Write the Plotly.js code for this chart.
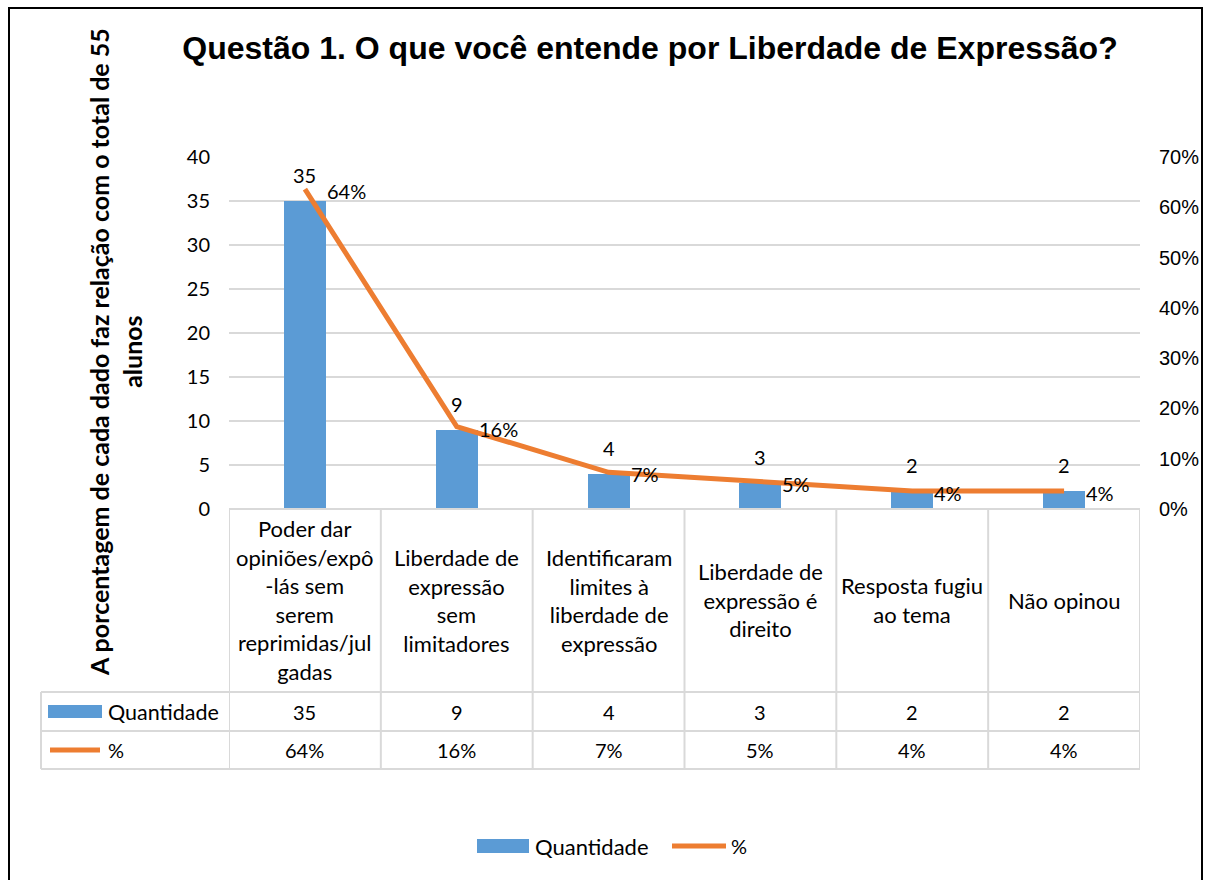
<!DOCTYPE html>
<html>
<head>
<meta charset="utf-8">
<script src="https://cdn.plot.ly/plotly-3.0.1.min.js"></script>
<style>html,body{margin:0;padding:0;background:#fff;}#chart{width:1208px;height:880px;}</style>
</head>
<body>
<div id="chart"></div>
<script>
// ---- data ----
const categories = [
  "Poder dar<br>opiniões/expô<br>-lás sem<br>serem<br>reprimidas/jul<br>gadas",
  "Liberdade de<br>expressão<br>sem<br>limitadores",
  "Identificaram<br>limites à<br>liberdade de<br>expressão",
  "Liberdade de<br>expressão é<br>direito",
  "Resposta fugiu<br>ao tema",
  "Não opinou"
];
const quantidade = [35, 9, 4, 3, 2, 2];
const percentual = [0.636, 0.164, 0.073, 0.0545, 0.036, 0.036];
const seriesNames = ["Quantidade", "%"];
const titleText = "Questão 1. O que você entende por Liberdade de Expressão?";
const yTitleText = "A porcentagem de cada dado faz relação com o total de 55<br>alunos";

// ---- geometry helpers (pixels -> paper) ----
const L = 229, R = 1140, T = 157, B = 509, W = 1208, H = 880;
const pw = R - L, ph = B - T;
const px = x => (x - L) / pw;
const py = y => (B - y) / ph;

const calib = "Lato, 'Open Sans', sans-serif";
const arial = "'Liberation Sans', Arial, sans-serif";
const blue = "#5b9bd5", orange = "#ed7d31", grid = "#d9d9d9";
const txt = 22, num = 20;

const xIdx = categories.map((c, i) => i);

const traces = [
  {
    type: "bar", x: xIdx, y: quantidade, name: seriesNames[0],
    width: 0.277, marker: {color: blue}, hoverinfo: "skip"
  },
  {
    type: "scatter", mode: "lines", x: xIdx, y: percentual, name: seriesNames[1],
    yaxis: "y2", line: {color: orange, width: 5}, hoverinfo: "skip"
  }
];

const annotations = [];
const shapes = [];

// bar labels
quantidade.forEach((v, i) => {
  annotations.push({x: i, y: v, xref: "x", yref: "y", text: String(v), showarrow: false,
    xanchor: "center", yanchor: "bottom", yshift: 12, font: {family: calib, size: num, color: "#000"}});
});
// line labels
percentual.forEach((v, i) => {
  annotations.push({x: i, y: v, xref: "x", yref: "y2", text: Math.round(v * 100) + "%", showarrow: false,
    xanchor: "left", yanchor: "middle", xshift: 20, yshift: -2, font: {family: calib, size: num, color: "#000"}});
});
// table header (categories) and values
categories.forEach((c, i) => {
  annotations.push({x: i, y: py(600), xref: "x", yref: "paper", text: c, showarrow: false,
    xanchor: "center", yanchor: "middle", align: "center", font: {family: calib, size: txt, color: "#000"}});
  annotations.push({x: i, y: py(712), xref: "x", yref: "paper", text: String(quantidade[i]), showarrow: false,
    xanchor: "center", yanchor: "middle", font: {family: calib, size: num, color: "#000"}});
  annotations.push({x: i, y: py(750), xref: "x", yref: "paper", text: Math.round(percentual[i] * 100) + "%", showarrow: false,
    xanchor: "center", yanchor: "middle", font: {family: calib, size: num, color: "#000"}});
});
// row labels
annotations.push({x: px(106), y: py(712), xref: "paper", yref: "paper", text: seriesNames[0], showarrow: false,
  xanchor: "left", yanchor: "middle", font: {family: calib, size: txt - 0.5, color: "#000"}});
annotations.push({x: px(106), y: py(750), xref: "paper", yref: "paper", text: seriesNames[1], showarrow: false,
  xanchor: "left", yanchor: "middle", font: {family: calib, size: num, color: "#000"}});
shapes.push({type: "rect", xref: "paper", yref: "paper", x0: px(48), x1: px(102), y0: py(705), y1: py(718),
  fillcolor: blue, line: {width: 0}});
shapes.push({type: "line", xref: "paper", yref: "paper", x0: px(50), x1: px(100), y0: py(750), y1: py(750),
  line: {color: orange, width: 5}});

// table lines
const tl = {color: grid, width: 2};
[509].forEach(y => shapes.push({type: "line", xref: "paper", yref: "paper", x0: 0, x1: 1, y0: py(y), y1: py(y), line: tl}));
[692, 731, 769].forEach(y => shapes.push({type: "line", xref: "paper", yref: "paper", x0: px(41), x1: 1, y0: py(y), y1: py(y), line: tl}));
for (let k = 0; k <= categories.length; k++) {
  shapes.push({type: "line", xref: "x", yref: "paper", x0: k - 0.5, x1: k - 0.5, y0: py(509), y1: py(769), line: tl});
}
shapes.push({type: "line", xref: "paper", yref: "paper", x0: px(41), x1: px(41), y0: py(692), y1: py(769), line: tl});

// y axis title
annotations.push({x: px(115), y: py(352), xref: "paper", yref: "paper", text: yTitleText, showarrow: false,
  textangle: -90, xanchor: "center", yanchor: "middle", align: "center",
  font: {family: calib, size: 25, color: "#000", weight: "bold"}});

// legend
shapes.push({type: "rect", xref: "paper", yref: "paper", x0: px(477), x1: px(529), y0: py(839), y1: py(853),
  fillcolor: blue, line: {width: 0}});
annotations.push({x: px(533), y: py(846), xref: "paper", yref: "paper", text: seriesNames[0], showarrow: false,
  xanchor: "left", yanchor: "middle", font: {family: calib, size: txt, color: "#000"}});
shapes.push({type: "line", xref: "paper", yref: "paper", x0: px(672), x1: px(726), y0: py(846), y1: py(846),
  line: {color: orange, width: 5}});
annotations.push({x: px(729), y: py(846), xref: "paper", yref: "paper", text: seriesNames[1], showarrow: false,
  xanchor: "left", yanchor: "middle", font: {family: calib, size: num, color: "#000"}});

// outer border
shapes.push({type: "rect", xref: "paper", yref: "paper", x0: px(9), x1: px(1202), y0: py(8), y1: py(884),
  line: {color: "#000", width: 2}, fillcolor: "rgba(0,0,0,0)", layer: "below"});

const layout = {
  width: W, height: H,
  margin: {l: L, r: W - R, t: T, b: H - B, pad: 0},
  paper_bgcolor: "#fff", plot_bgcolor: "#fff",
  showlegend: false,
  title: {text: "<b>" + titleText + "</b>", x: 650 / W, xref: "container", xanchor: "center",
    y: 1 - 48 / H, yref: "container", yanchor: "middle",
    font: {family: arial, size: 32, color: "#000"}},
  xaxis: {type: "linear", range: [-0.5, categories.length - 0.5], showticklabels: false, showgrid: false,
    zeroline: false, showline: false, ticks: "", fixedrange: true},
  yaxis: {range: [0, 40], dtick: 5, tick0: 0, showgrid: true, gridcolor: grid, gridwidth: 1.5, zeroline: false,
    showline: false, ticks: "outside", ticklen: 14, tickcolor: "rgba(0,0,0,0)",
    tickfont: {family: calib, size: num, color: "#000"}, fixedrange: true},
  yaxis2: {overlaying: "y", side: "right", range: [0, 0.7], dtick: 0.1, tick0: 0, tickformat: ".0%",
    showgrid: false, zeroline: false, showline: false, ticks: "outside", ticklen: 14, tickcolor: "rgba(0,0,0,0)",
    tickfont: {family: arial, size: 20, color: "#000"}, fixedrange: true},
  annotations: annotations,
  shapes: shapes,
  bargap: 0
};

Plotly.newPlot("chart", traces, layout, {displayModeBar: false, staticPlot: true});
</script>
</body>
</html>
